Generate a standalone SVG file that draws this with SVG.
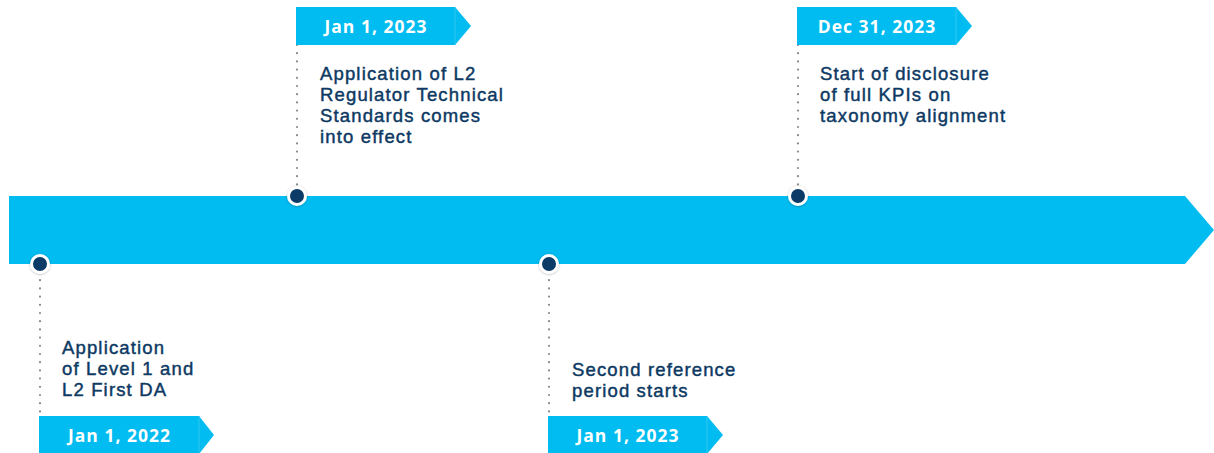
<svg xmlns="http://www.w3.org/2000/svg" width="1214" height="453" viewBox="0 0 1214 453">
<style>
.bar{fill:#00bcf0}
.flag{fill:#00bcf0}
.seam{stroke:#2ec8f3;stroke-width:1}
.ft{font-family:"Open Sans","Liberation Sans",sans-serif;font-weight:700;font-size:17.5px;letter-spacing:1px;fill:#ffffff;text-anchor:middle}
.lt{font-family:"Liberation Sans",Arial,sans-serif;font-weight:400;font-size:18.5px;letter-spacing:1.15px;fill:#0d3963;stroke:#0d3963;stroke-width:0.45px}
.dot{stroke:#8a8a8a;stroke-width:2.2;stroke-linecap:round;stroke-dasharray:0 8.2;fill:none}
.pin{fill:#0b3a68;stroke:#ffffff;stroke-width:3;filter:url(#sh)}
</style>
<defs>
<filter id="sh" x="-50%" y="-50%" width="200%" height="200%">
<feDropShadow dx="0" dy="0.5" stdDeviation="1.2" flood-color="#000" flood-opacity="0.3"/>
</filter>
</defs>
<g id="connectors">
<line class="dot" x1="297" y1="45" x2="297" y2="188"/>
<line class="dot" x1="798" y1="45" x2="798" y2="188"/>
<line class="dot" x1="40" y1="272" x2="40" y2="415"/>
<line class="dot" x1="549" y1="272" x2="549" y2="415"/>
</g>
<g id="timeline">
<polygon class="bar" points="9,196 1185,196 1214,230 1185,264 9,264"/>
</g>
<g id="event-2023-top">
<polygon class="flag" points="296,7 455,7 471,26 455,45 296,45"/>
<line class="seam" x1="455" y1="7" x2="455" y2="45"/>
<text class="ft" x="376" y="33">Jan 1, 2023</text>
<text class="lt" x="320" y="80">Application of L2</text>
<text class="lt" x="320" y="101">Regulator Technical</text>
<text class="lt" x="320" y="122">Standards comes</text>
<text class="lt" x="320" y="143">into effect</text>
<circle class="pin" cx="297" cy="196" r="8.5"/>
</g>
<g id="event-dec-2023">
<polygon class="flag" points="797,7 956,7 972,26 956,45 797,45"/>
<line class="seam" x1="956" y1="7" x2="956" y2="45"/>
<text class="ft" x="877" y="33">Dec 31, 2023</text>
<text class="lt" x="820" y="80">Start of disclosure</text>
<text class="lt" x="820" y="101">of full KPIs on</text>
<text class="lt" x="820" y="122">taxonomy alignment</text>
<circle class="pin" cx="798" cy="196" r="8.5"/>
</g>
<g id="event-2022">
<polygon class="flag" points="39,416 199,416 214,435 199,454 39,454"/>
<line class="seam" x1="199" y1="416" x2="199" y2="454"/>
<text class="ft" x="119.5" y="442">Jan 1, 2022</text>
<text class="lt" x="62" y="354">Application</text>
<text class="lt" x="62" y="375">of Level 1 and</text>
<text class="lt" x="62" y="396">L2 First DA</text>
<circle class="pin" cx="40" cy="264" r="8.5"/>
</g>
<g id="event-2023-bottom">
<polygon class="flag" points="548,416 707,416 723,435 707,454 548,454"/>
<line class="seam" x1="707" y1="416" x2="707" y2="454"/>
<text class="ft" x="628" y="442">Jan 1, 2023</text>
<text class="lt" x="572" y="376">Second reference</text>
<text class="lt" x="572" y="397">period starts</text>
<circle class="pin" cx="549" cy="264" r="8.5"/>
</g>
</svg>
